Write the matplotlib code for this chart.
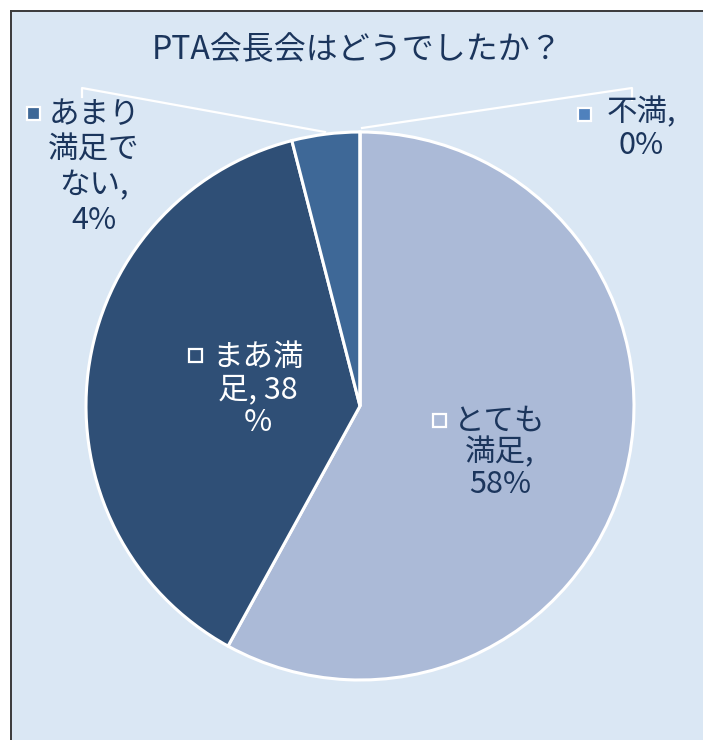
import matplotlib
matplotlib.use("Agg")
import matplotlib.pyplot as plt
from matplotlib.patches import Rectangle

plt.rcParams['font.family'] = ['Noto Sans CJK JP', 'DejaVu Sans']

# ---- data ----
title = "PTA会長会はどうでしたか？"
categories = ["とても満足", "まあ満足", "あまり満足でない", "不満"]
values = [58, 38, 4, 0]
colors = ["#ABBAD7", "#2F4F76", "#3E6897", "#4F81BD"]
label_lines = ["とても\n満足,\n58%", "まあ満\n足, 38\n%", "あまり\n満足で\nない,\n4%", "不満,\n0%"]
label_colors = ["#1B355C", "white", "#1B355C", "#1B355C"]

W, H = 703, 740
def Y(y):
    return H - y

fig = plt.figure(figsize=(W / 100, H / 100), dpi=100)
fig.patch.set_facecolor("white")
ax = fig.add_axes([0, 0, 1, 1])

# background panel with border
ax.add_patch(Rectangle((10, 0), W - 10, Y(10), facecolor="#DAE7F4", edgecolor="none", zorder=0))
ax.plot([10.5, 10.5], [0, Y(10)], color="#3A3A3A", lw=1.4, zorder=1, solid_capstyle="butt")
ax.plot([10, W], [Y(10.5), Y(10.5)], color="#3A3A3A", lw=1.4, zorder=1, solid_capstyle="butt")

cx, cy, r = 360, 406, 274
ax.pie(values, colors=colors, startangle=90, counterclock=False,
       center=(cx, Y(cy)), radius=r,
       wedgeprops=dict(edgecolor="white", linewidth=2.2))

ax.set_xlim(0, W)
ax.set_ylim(0, H)
ax.set_aspect("equal")
ax.axis("off")

# title
ax.text(357, Y(50), title, ha="center", va="center", fontsize=23, color="#1B355C")

# leader lines
ax.plot([325, 82, 82], [Y(132), Y(88), Y(97)], color="white", lw=1.6, zorder=3)
ax.plot([362, 632, 632], [Y(128), Y(88), Y(100)], color="white", lw=1.6, zorder=3)

# labels: (center x, center y of block), marker (x, y top-left px)
label_pos = [(500, 453), (258, 390), (94, 168), (641, 129)]
marker_pos = [(433, 414), (189, 349), (27, 107), (578, 108)]
marker_fill = [colors[0], colors[1], colors[2], colors[3]]
spacing = [1.02, 1.05, 1.18, 1.05]
for i in range(4):
    x, y = label_pos[i]
    ax.text(x, Y(y), label_lines[i], ha="center", va="center", multialignment="center",
            fontsize=22, color=label_colors[i], linespacing=spacing[i], zorder=4)
    mx, my = marker_pos[i]
    s = 13
    ax.add_patch(Rectangle((mx, Y(my) - s), s, s, facecolor=marker_fill[i],
                           edgecolor="white", lw=1.6, zorder=4))

fig.savefig("out.png", dpi=100)
